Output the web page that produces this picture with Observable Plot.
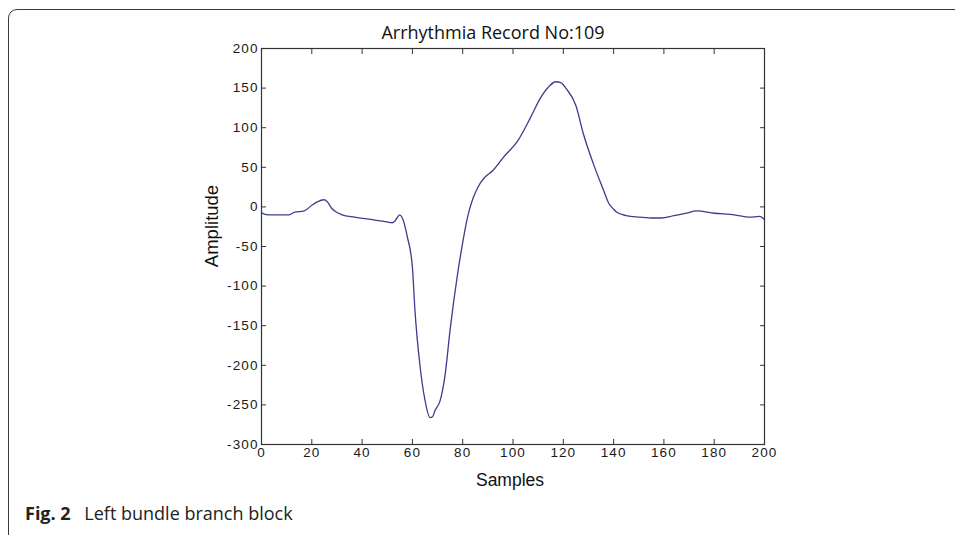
<!DOCTYPE html>
<html>
<head>
<meta charset="utf-8">
<script src="https://cdn.jsdelivr.net/npm/d3@7"></script>
<script src="https://cdn.jsdelivr.net/npm/@observablehq/plot@0.6"></script>
<style>
  html, body { margin: 0; padding: 0; background: #fff; }
  #fig { position: relative; width: 955px; height: 535px; overflow: hidden; }
  #border { position: absolute; left: 8px; top: 9px; width: 1100px; height: 600px;
            border: 1.5px solid #3a3a3a; border-radius: 9px; box-sizing: border-box; }
  .t { position: absolute; white-space: nowrap; color: #111; }
  #title { left: 493px; top: 20px; transform: translateX(-50%); font: 18px "Open Sans", sans-serif; }
  #xlabel { left: 510px; top: 470px; transform: translateX(-50%); font: 17.5px "Liberation Sans", Arial, sans-serif; }
  #ylabel { left: 212px; top: 226px; transform: translate(-50%, -50%) rotate(-90deg); font: 18.5px "Liberation Sans", Arial, sans-serif; }
  #caption { left: 25px; top: 501px; font: 18px "Open Sans", sans-serif; color: #222; }
  #caption b { font-weight: 700; margin-right: 9px; }
  svg { position: absolute; left: 0; top: 0; }
  svg g[aria-label$="tick label"] { font-size: 13.5px !important; }
  svg g[aria-label$="tick label"] text { letter-spacing: 1.1px; }
</style>
</head>
<body>
<div id="fig">
  <div id="border"></div>
  <div id="chart"></div>
  <div class="t" id="title">Arrhythmia Record No:109</div>
  <div class="t" id="xlabel">Samples</div>
  <div class="t" id="ylabel">Amplitude</div>
  <div class="t" id="caption"><b>Fig. 2</b> Left bundle branch block</div>
</div>
<script>
const samples = [0, 1, 3, 6, 11, 13, 17, 20, 22, 25, 26, 28, 29, 32, 37, 44, 50, 52, 53, 55, 56, 58, 60, 61, 63, 65, 67, 68, 69, 71, 73, 75, 78, 80, 82, 84, 85, 87, 89, 92, 96, 102, 107, 111, 114, 117, 119, 121, 125, 128, 132, 136, 138, 140, 141, 145, 150, 155, 159, 164, 169, 173, 180, 188, 194, 198, 200];
const amplitude = [-7, -9, -10, -10, -10, -7, -5, 2, 6, 9, 7, -2, -5, -10, -13, -16, -19, -20, -18, -10, -14, -38, -76, -130, -200, -244, -266, -265, -257, -245, -212, -155, -84, -45, -12, 10, 18, 30, 38, 46, 62, 84, 113, 138, 151, 158, 157, 150, 128, 92, 54, 21, 5, -3, -6, -11, -13, -14, -14, -11, -8, -5, -8, -10, -13, -12, -16];
const xTicks = [0, 20, 40, 60, 80, 100, 120, 140, 160, 180, 200];
const yTicks = [-300, -250, -200, -150, -100, -50, 0, 50, 100, 150, 200];

const data = samples.map((s, i) => ({s, a: amplitude[i]}));
const axisColor = "#333";
const fmt = (d) => String(d);

const chart = Plot.plot({
  width: 955,
  height: 535,
  marginLeft: 261,
  marginRight: 191,
  marginTop: 48,
  marginBottom: 91,
  style: {fontFamily: "'Liberation Sans', Arial, sans-serif", color: "#1a1a1a", background: "transparent"},
  x: {domain: [0, 200]},
  y: {domain: [-300, 200]},
  marks: [
    Plot.axisX({anchor: "bottom", ticks: xTicks, tickFormat: fmt, tickSize: -5, tickPadding: 8, label: null, stroke: axisColor}),
    Plot.axisX({anchor: "top", ticks: xTicks, tickSize: -5, tickFormat: () => "", label: null, stroke: axisColor}),
    Plot.axisY({anchor: "left", ticks: yTicks, tickFormat: fmt, tickSize: -5, tickPadding: 8, label: null, stroke: axisColor}),
    Plot.axisY({anchor: "right", ticks: yTicks, tickSize: -5, tickFormat: () => "", label: null, stroke: axisColor}),
    Plot.line(data, {x: "s", y: "a", stroke: "#3d3d8c", strokeWidth: 1.3, curve: "monotone-x"}),
    Plot.frame({stroke: axisColor, strokeWidth: 1.2})
  ]
});
document.getElementById("chart").appendChild(chart);
</script>
</body>
</html>
